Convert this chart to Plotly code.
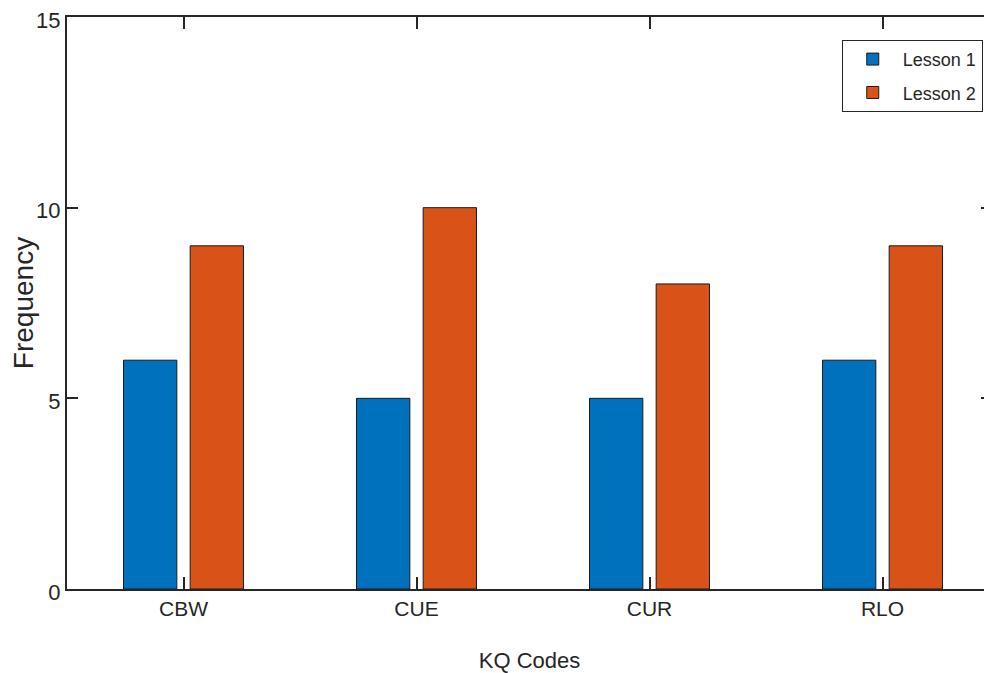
import plotly.graph_objects as go

categories = ["CBW", "CUE", "CUR", "RLO"]
lesson1 = [6, 5, 5, 6]
lesson2 = [9, 10, 8, 9]
y_ticks = [0, 5, 10, 15]

FONT = "Liberation Sans, Arial, sans-serif"
x_pos = [1, 2, 3, 4]

fig = go.Figure()
fig.add_trace(go.Bar(x=x_pos, y=lesson1, name="Lesson 1", legendgroup="a",
                     marker=dict(color="#0072BD", line=dict(color="#1a1a1a", width=1))))
fig.add_trace(go.Bar(x=x_pos, y=lesson2, name="Lesson 2", legendgroup="b",
                     marker=dict(color="#D95319", line=dict(color="#1a1a1a", width=1))))

fig.update_layout(
    width=984, height=665,
    margin=dict(l=59, r=0, t=9, b=84),
    paper_bgcolor="white", plot_bgcolor="white",
    barmode="group", bargap=0.428, bargroupgap=0.2,
    font=dict(family=FONT, size=20, color="#262626"),
    xaxis=dict(
        tickmode="array", tickvals=x_pos, ticktext=categories,
        range=[0.5, 0.5 + 925 / 233], automargin=False,
        showline=True, linecolor="#262626", linewidth=2, mirror="ticks",
        ticks="inside", ticklen=12, tickwidth=1.5, tickcolor="#262626",
        showgrid=False, zeroline=False,
        tickfont=dict(family=FONT, size=21),
        title=dict(text="KQ Codes", font=dict(family=FONT, size=22), standoff=33),
    ),
    yaxis=dict(
        range=[0, 15], tickmode="array", tickvals=y_ticks, automargin=False,
        ticklabeloverflow="allow", ticklabelshift=3,
        showline=True, linecolor="#262626", linewidth=2, mirror="ticks",
        ticks="inside", ticklen=11, tickwidth=1.5, tickcolor="#262626",
        showgrid=False, zeroline=False,
        tickfont=dict(family=FONT, size=22),
        title=dict(text="Frequency", font=dict(family=FONT, size=28), standoff=9),
    ),
    legend=dict(
        x=0.99, y=0.96, xanchor="right", yanchor="top",
        bgcolor="white", bordercolor="#262626", borderwidth=1,
        font=dict(family=FONT, size=18), itemwidth=50,
        traceorder="grouped", tracegroupgap=7,
    ),
)

fig.write_html("out.html")
